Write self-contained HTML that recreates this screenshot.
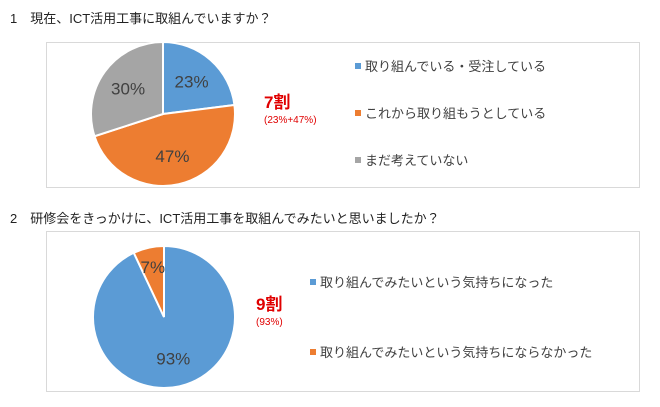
<!DOCTYPE html>
<html><head><meta charset="utf-8"><style>
body{margin:0;width:660px;height:402px;background:#fff;overflow:hidden;font-family:"Liberation Sans","Noto Sans CJK JP",sans-serif;}
svg text{font-family:"Liberation Sans","Noto Sans CJK JP",sans-serif;}
</style></head><body>
<svg width="660" height="402">
<text x="10" y="23" font-size="13" fill="#222">1　現在、ICT活用工事に取組んでいますか？</text>
<rect x="46.5" y="42.5" width="593" height="145" fill="#fff" stroke="#d9d9d9"/>
<g id="pie1"></g>
<text x="264" y="108" font-size="17" font-weight="bold" fill="#e00000">7割</text>
<text x="264" y="123" font-size="10" fill="#e00000">(23%+47%)</text>
<g id="leg1"></g>
<text x="10" y="223" font-size="13" fill="#222">2　研修会をきっかけに、ICT活用工事を取組んでみたいと思いましたか？</text>
<rect x="46.5" y="231.5" width="593" height="160" fill="#fff" stroke="#d9d9d9"/>
<g id="pie2"></g>
<text x="256" y="310" font-size="17" font-weight="bold" fill="#e00000">9割</text>
<text x="256" y="325" font-size="10" fill="#e00000">(93%)</text>
<g id="leg2"></g>
</svg>
<script>
const cats1=["取り組んでいる・受注している","これから取り組もうとしている","まだ考えていない"];
const vals1=[23,47,30];
const cats2=["取り組んでみたいという気持ちになった","取り組んでみたいという気持ちにならなかった"];
const vals2=[93,7];
const colors=["#5b9bd5","#ed7d31","#a5a5a5"];
const NS="http://www.w3.org/2000/svg";
function mk(t,a,p){const e=document.createElementNS(NS,t);for(const k in a)e.setAttribute(k,a[k]);p.appendChild(e);return e;}
function pie(g,vals,cx,cy,r){
  const tot=vals.reduce((a,b)=>a+b,0);let a0=0;
  vals.forEach((v,i)=>{
    const a1=a0+v/tot*2*Math.PI;
    const x0=cx+r*Math.sin(a0),y0=cy-r*Math.cos(a0),x1=cx+r*Math.sin(a1),y1=cy-r*Math.cos(a1);
    const p=mk('path',{d:`M${cx},${cy}L${x0},${y0}A${r},${r} 0 ${a1-a0>Math.PI?1:0} 1 ${x1},${y1}Z`,fill:colors[i],stroke:'#fff','stroke-width':2},g);
    
    
    const am=(a0+a1)/2,lr=r*(v<10?0.72:0.6);
    const t=mk('text',{x:cx+lr*Math.sin(am),y:cy-lr*Math.cos(am)+6,'font-size':17,fill:'#404040','text-anchor':'middle'},g);
    t.textContent=v+'%';
    
    
    a0=a1;
  });
}
function legend(g,cats,x,ys){
  cats.forEach((c,i)=>{
    const r=mk('rect',{x:x,y:ys[i]-4,width:6,height:6,fill:colors[i]},g);
    
    
    const t=mk('text',{x:x+10,y:ys[i]+4,'font-size':13,fill:'#404040'},g);
    t.textContent=c;
    
    
  });
}
pie(document.getElementById('pie1'),vals1,163,114,72);
legend(document.getElementById('leg1'),cats1,355,[67,114,161]);
pie(document.getElementById('pie2'),vals2,164,317,71);
legend(document.getElementById('leg2'),cats2,310,[283,353]);
</script>
</body></html>
